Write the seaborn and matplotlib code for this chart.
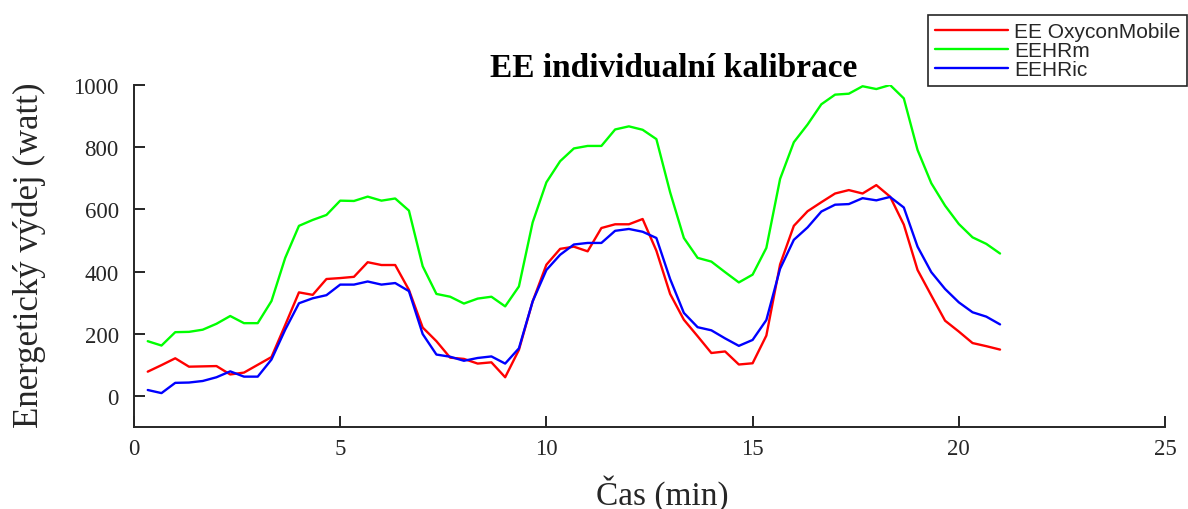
import numpy as np
import pandas as pd
import matplotlib
matplotlib.use("Agg")
import matplotlib.pyplot as plt
import seaborn as sns

# time in minutes (every 20 s)
time_min = [k / 3 for k in range(1, 64)]

ee_oxycon = [78, 99, 121, 94, 95, 96, 69, 75, 100, 125, 228, 333, 325, 376, 379, 383,
             430, 421, 421, 341, 220, 176, 123, 119, 104, 108, 60, 148, 304, 422, 473,
             480, 465, 540, 552, 552, 569, 467, 328, 245, 192, 138, 143, 101, 105, 194,
             423, 547, 594, 623, 651, 662, 651, 678, 641, 551, 405, 323, 242, 207, 170,
             160, 149]

eehrm = [176, 162, 205, 206, 213, 232, 257, 234, 234, 305, 444, 547, 566, 582, 628, 627,
         641, 628, 635, 596, 417, 328, 319, 297, 313, 319, 288, 352, 558, 687, 755,
         796, 804, 804, 857, 867, 856, 826, 655, 508, 444, 432, 398, 365, 390, 476,
         698, 816, 873, 938, 969, 972, 996, 987, 1000, 957, 791, 684, 612, 553, 510,
         489, 458]

eehric = [19, 9, 42, 43, 48, 60, 79, 62, 62, 117, 213, 298, 314, 324, 358, 358,
          368, 358, 363, 337, 199, 133, 126, 113, 122, 127, 104, 153, 304, 405, 454,
          487, 492, 492, 531, 537, 528, 508, 376, 267, 221, 211, 185, 161, 180, 244,
          409, 502, 542, 593, 615, 617, 636, 629, 640, 606, 480, 398, 344, 301, 269,
          255, 230]

series_names = ["EE OxyconMobile", "EEHRm", "EEHRic"]
series_colors = ["#ff0000", "#00ff00", "#0000ff"]

x_ticks = [0, 5, 10, 15, 20, 25]
y_ticks = [0, 200, 400, 600, 800, 1000]

df = pd.DataFrame({
    "t": time_min * 3,
    "value": ee_oxycon + eehrm + eehric,
    "series": [series_names[0]] * len(time_min) + [series_names[1]] * len(time_min)
              + [series_names[2]] * len(time_min),
})

sns.set_theme(style="white")
plt.rcParams["font.family"] = ["Liberation Serif", "DejaVu Serif"]
plt.rcParams["xtick.direction"] = "in"
plt.rcParams["ytick.direction"] = "in"
plt.rcParams["xtick.bottom"] = True
plt.rcParams["ytick.left"] = True

fig = plt.figure(figsize=(11.88, 5.10), dpi=100)
ax = fig.add_axes([134 / 1188, 1 - 428 / 510, (1165 - 134) / 1188, (428 - 86) / 510])

sns.lineplot(data=df, x="t", y="value", hue="series", hue_order=series_names,
             palette=series_colors, linewidth=1.7, ax=ax, legend=True)

ax.set_xlim(0, 25)
ax.set_ylim(-100, 1000)
ax.set_xticks(x_ticks)
ax.set_yticks(y_ticks)
ax.set_xticklabels([str(v) for v in x_ticks])
ax.set_yticklabels([str(v) for v in y_ticks])

for s in ["top", "right"]:
    ax.spines[s].set_visible(False)
for s in ["left", "bottom"]:
    ax.spines[s].set_color("#262626")
    ax.spines[s].set_linewidth(1.4)

ax.tick_params(axis="x", which="major", bottom=True, direction="in",
               length=8, width=1.4, color="#262626",
               labelsize=16.5, labelcolor="#262626", pad=8)
ax.tick_params(axis="y", which="major", left=True, direction="in",
               length=8, width=1.4, color="#262626",
               labelsize=16.5, labelcolor="#262626", pad=11)

ax.set_xlabel("Čas (min)", fontsize=24, color="#262626")
ax.set_ylabel("Energetický výdej (watt)", fontsize=25, color="#262626")
ax.xaxis.set_label_coords((662 - 134) / 1031, (428 - 475) / 342)
ax.yaxis.set_label_coords((46 - 134) / 1031, (428 - 255) / 342)

fig.text(674 / 1188, 1 - 77 / 510, "EE individualní kalibrace", ha="center", va="baseline",
         fontsize=24, fontweight="bold", color="black")

handles, labels = ax.get_legend_handles_labels()
ax.legend(handles, labels, loc="upper right", bbox_to_anchor=(1187 / 1188, 1 - 16 / 510),
          bbox_transform=fig.transFigure, prop={"family": "Liberation Sans", "size": 15},
          frameon=True, fancybox=False, edgecolor="#262626", framealpha=1,
          handlelength=3.5, handletextpad=0.3, labelspacing=0.0, borderpad=0.33,
          borderaxespad=0)
ax.get_legend().get_frame().set_linewidth(1.2)

fig.savefig("out.png", dpi=100)
